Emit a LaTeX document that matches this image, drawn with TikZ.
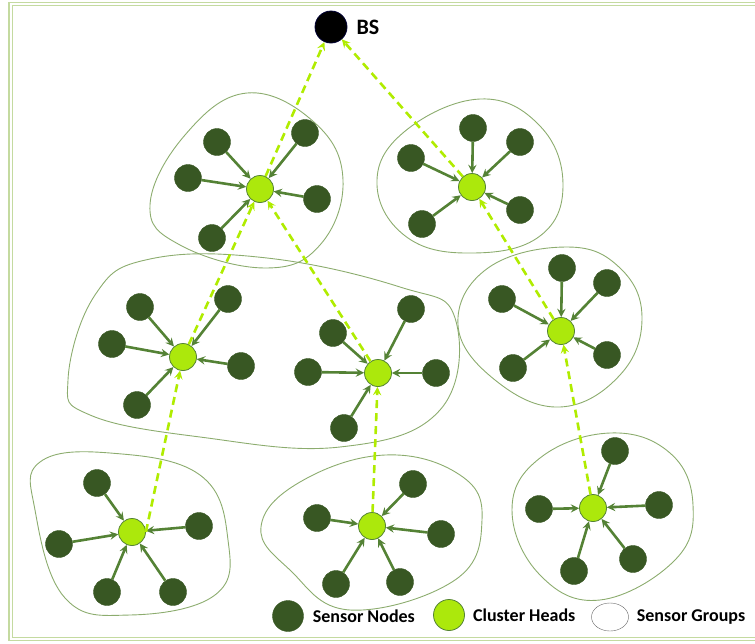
\documentclass[tikz,border=0pt]{standalone}
\usepackage{fontspec}
\setmainfont{Carlito}
\usepackage{xcolor}
\usepackage{tikz}
\usetikzlibrary{shapes.geometric, arrows, positioning}
\definecolor{nodegreen}{RGB}{56,87,35}
\definecolor{arrowgreen}{RGB}{84,130,53}
\definecolor{headgreen}{RGB}{172,232,12}
\definecolor{linkgreen}{RGB}{176,236,0}
\definecolor{groupgreen}{RGB}{140,172,110}
\definecolor{framegreen}{RGB}{196,218,160}
\tikzstyle{feed} = [line width=2.6pt,->,>=stealth,draw=arrowgreen]
\tikzstyle{uplink} = [line width=2.6pt,->,>=stealth,draw=linkgreen,dash pattern=on 8pt off 5pt]

\begin{document}
\begin{tikzpicture}[x=1pt, y=-1pt,
    sensor/.style={circle, fill=nodegreen, draw=nodegreen, minimum size=27pt, inner sep=0pt},
    head/.style={circle, fill=headgreen, draw=arrowgreen, thick, minimum size=27pt, inner sep=0pt},
    station/.style={circle, fill=black, draw=black!80!blue, thick, minimum size=32pt, inner sep=0pt},
    group/.style={draw=groupgreen, line width=0.9pt},
    legend/.style={font=\bfseries\fontsize{18}{20}\selectfont, inner sep=0pt}
]
    \useasboundingbox (0,0) rectangle (755,643);
    % Frame
    \draw[draw=framegreen, double=white, double distance=2pt, line width=1.3pt] (10.5,4) rectangle (775,639);

    % Sensor groups
    \draw[group] plot[smooth cycle, tension=0.7] coordinates {(247,93) (315,123) (343,180) (320,245) (265,268) (180,245) (150,205) (185,135)};
    \draw[group] plot[smooth cycle, tension=0.7] coordinates {(480,99) (540,126) (563,185) (540,236) (474,253) (408,238) (377,185) (404,132)};
    \draw[group] plot[smooth cycle, tension=0.7] coordinates {(68,380) (95,295) (150,259) (267,258) (400,287) (455,318) (440,410) (340,447) (200,437) (90,415)};
    \draw[group] plot[smooth cycle, tension=0.7] coordinates {(567,247) (620,268) (642,318) (620,375) (560,407) (495,380) (458,325) (488,268)};
    \draw[group] plot[smooth cycle, tension=0.7] coordinates {(40,462) (110,453) (200,475) (228,540) (215,595) (130,615) (65,598) (35,510)};
    \draw[group] plot[smooth cycle, tension=0.7] coordinates {(261,527) (300,482) (385,455) (460,475) (482,520) (455,580) (350,610) (290,570)};
    \draw[group] plot[smooth cycle, tension=0.7] coordinates {(512,510) (540,458) (610,433) (670,453) (693,505) (675,560) (600,600) (540,575)};

    % Base station
    \node[station] (bs) at (331,27) {};
    \node[right=9pt of bs, font=\bfseries\fontsize{22}{24}\selectfont, inner sep=0pt] (bslabel) {BS};

    % Cluster heads
    \node[head] (h1) at (260,189) {};
    \node[head] (h2) at (472,187) {};
    \node[head] (h3) at (183,357) {};
    \node[head] (h4) at (378,373) {};
    \node[head] (h5) at (561,331) {};
    \node[head] (h6) at (132,532) {};
    \node[head] (h7) at (372,526) {};
    \node[head] (h8) at (593,508) {};

    % Sensor nodes
    \node[sensor] (s11) at (217,142) {};
    \node[sensor] (s12) at (188,178) {};
    \node[sensor] (s13) at (212,238) {};
    \node[sensor] (s14) at (305,133) {};
    \node[sensor] (s15) at (317,199) {};

    \node[sensor] (s21) at (473,128) {};
    \node[sensor] (s22) at (520,142) {};
    \node[sensor] (s23) at (411,158) {};
    \node[sensor] (s24) at (422,224) {};
    \node[sensor] (s25) at (520,210) {};

    \node[sensor] (s31) at (140,307) {};
    \node[sensor] (s32) at (112,344) {};
    \node[sensor] (s33) at (137,405) {};
    \node[sensor] (s34) at (228,299) {};
    \node[sensor] (s35) at (241,366) {};

    \node[sensor] (s41) at (333,333) {};
    \node[sensor] (s42) at (308,372) {};
    \node[sensor] (s43) at (344,428) {};
    \node[sensor] (s44) at (411,309) {};
    \node[sensor] (s45) at (436,373) {};

    \node[sensor] (s51) at (562,268) {};
    \node[sensor] (s52) at (607,283) {};
    \node[sensor] (s53) at (502,299) {};
    \node[sensor] (s54) at (513,368) {};
    \node[sensor] (s55) at (607,355) {};

    \node[sensor] (s61) at (97,483) {};
    \node[sensor] (s62) at (59,544) {};
    \node[sensor] (s63) at (107,592) {};
    \node[sensor] (s64) at (173,592) {};
    \node[sensor] (s65) at (199,526) {};

    \node[sensor] (s71) at (317,518) {};
    \node[sensor] (s72) at (413,484) {};
    \node[sensor] (s73) at (441,534) {};
    \node[sensor] (s74) at (336,584) {};
    \node[sensor] (s75) at (400,582) {};

    \node[sensor] (s81) at (615,451) {};
    \node[sensor] (s82) at (659,505) {};
    \node[sensor] (s83) at (539,509) {};
    \node[sensor] (s84) at (574,571) {};
    \node[sensor] (s85) at (633,559) {};

    % Sensors to heads
    \foreach \g in {1,...,8}
        \foreach \s in {1,...,5}
            \draw[feed] (s\g\s) -- (h\g);

    % Heads to base station
    \draw[uplink] (h1) -- (bs);
    \draw[uplink] (h2) -- (bs);
    \draw[uplink] (h3) -- (h1);
    \draw[uplink] (h4) -- (h1);
    \draw[uplink] (h5) -- (h2);
    \draw[uplink] (h6.east) -- (h3);
    \draw[uplink] (h7) -- (h4);
    \draw[uplink] (h8) -- (h5);

    % Legend
    \node[sensor, minimum size=31pt] (keysensor) at (288,616) {};
    \node[legend, right=9pt of keysensor] (keysensortext) {Sensor Nodes};
    \node[head, minimum size=31pt] (keyhead) at (449,615) {};
    \node[legend, right=8pt of keyhead] (keyheadtext) {Cluster Heads};
    \node[ellipse, draw=black!60, minimum width=37pt, minimum height=28pt, inner sep=0pt] (keygroup) at (610,617) {};
    \node[legend, right=8pt of keygroup] (keygrouptext) {Sensor Groups};
\end{tikzpicture}
\end{document}
